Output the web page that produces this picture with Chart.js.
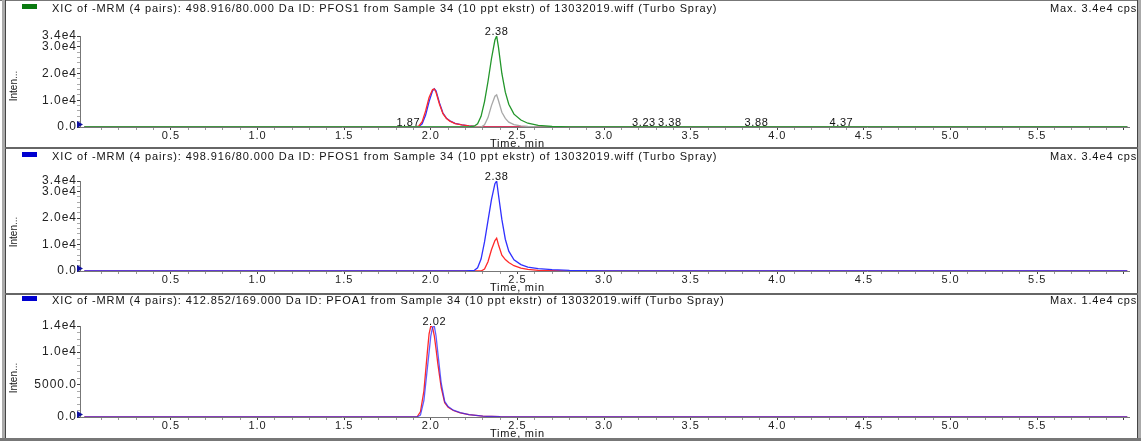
<!DOCTYPE html>
<html>
<head>
<meta charset="utf-8">
<script src="https://cdn.jsdelivr.net/npm/chart.js@4.4.1/dist/chart.umd.min.js"></script>
<style>
body{margin:0;background:#fff;}
#wrap{position:relative;width:1141px;height:441px;overflow:hidden;background:#fff;}
canvas{position:absolute;left:0;}
.ln{position:absolute;}
</style>
</head>
<body>
<div id="wrap">
<canvas id="c1" width="1141" height="148" style="top:0"></canvas>
<canvas id="c2" width="1141" height="146" style="top:148px"></canvas>
<canvas id="c3" width="1141" height="147" style="top:294px"></canvas>
<div class="ln" style="left:0;top:0;width:1141px;height:1px;background:#777"></div>
<div class="ln" style="left:2px;top:0;width:3px;height:441px;background:#aaa"></div>
<div class="ln" style="left:5px;top:0;width:1px;height:441px;background:#444"></div>
<div class="ln" style="left:1137px;top:0;width:1px;height:441px;background:#444"></div>
<div class="ln" style="left:1138px;top:0;width:3px;height:441px;background:#aaa"></div>
<div class="ln" style="left:5px;top:147px;width:1133px;height:2px;background:#666"></div>
<div class="ln" style="left:5px;top:293px;width:1133px;height:2px;background:#666"></div>
<div class="ln" style="left:0;top:438px;width:1141px;height:3px;background:#777"></div>
</div>
<script>
// x axis labels (minutes)
var xTickLabels = ['0.5','1.0','1.5','2.0','2.5','3.0','3.5','4.0','4.5','5.0','5.5'];

// panel 1 : PFOS1 498.916/80.000
var p1Time = [0, 0.5, 1.0, 1.5, 1.80, 1.87, 1.91, 1.93, 1.95, 1.97, 1.99, 2.01, 2.02, 2.03, 2.05, 2.07, 2.09,
  2.11, 2.14, 2.18, 2.22, 2.25, 2.27, 2.29, 2.31, 2.33, 2.35, 2.37, 2.38, 2.39, 2.41, 2.43, 2.45, 2.48, 2.52,
  2.56, 2.62, 2.70, 2.80, 3.0, 3.23, 3.38, 3.6, 3.88, 4.1, 4.37, 4.6, 5.0, 5.5, 6.02];
var p1Green = [0, 0, 0, 0, 0, 0, 0, 0, 0, 0, 0, 0, 0, 0, 0, 0, 0,
  0, 0, 0, 0, 300, 1200, 4000, 9500, 17000, 25500, 32500, 34000, 30000, 20000, 13000, 8500, 4800, 2600,
  1400, 600, 200, 50, 0, 0, 0, 0, 0, 0, 0, 0, 0, 0, 0];
var p1Gray = [0, 0, 0, 0, 0, 0, 0, 0, 0, 0, 0, 0, 0, 0, 0, 0, 0,
  0, 0, 0, 0, 0, 0, 0, 800, 3500, 8000, 11500, 12000, 10000, 5500, 3200, 1800, 900, 400,
  200, 80, 0, 0, 0, 0, 0, 0, 0, 0, 0, 0, 0, 0, 0];
var p1Red = [0, 0, 0, 0, 0, 0, 0, 300, 2000, 6000, 11000, 14000, 14200, 13000, 8500, 5000, 3200,
  2200, 1300, 800, 450, 250, 150, 100, 60, 40, 30, 20, 20, 20, 10, 0, 0, 0, 0,
  0, 0, 0, 0, 0, 0, 0, 0, 0, 0, 0, 0, 0, 0, 0];
var p1Blue = [0, 0, 0, 0, 0, 0, 0, 100, 1200, 4500, 9500, 13500, 14300, 13500, 9000, 5200, 3300,
  2300, 1350, 800, 450, 250, 150, 100, 60, 40, 30, 20, 20, 20, 10, 0, 0, 0, 0,
  0, 0, 0, 0, 0, 0, 0, 0, 0, 0, 0, 0, 0, 0, 0];
var p1Peaks = [1.87, 2.38, 3.23, 3.38, 3.88, 4.37];
var p1PeakHeights = [0, 34000, 0, 0, 0, 0];
var p1YTicks = [0, 10000, 20000, 30000, 34000];
var p1YLabels = ['0.0', '1.0e4', '2.0e4', '3.0e4', '3.4e4'];

// panel 2 : PFOS1 498.916/80.000
var p2Time = [0, 0.5, 1.0, 1.5, 2.0, 2.2, 2.25, 2.27, 2.29, 2.31, 2.33, 2.35, 2.37, 2.38, 2.39, 2.41, 2.43,
  2.45, 2.48, 2.52, 2.56, 2.62, 2.70, 2.80, 2.90, 3.0, 3.5, 4.0, 4.5, 5.0, 5.5, 6.02];
var p2Blue = [0, 0, 0, 0, 0, 0, 200, 1200, 4500, 11000, 19000, 27000, 33000, 34000, 29000, 19500, 12000,
  7500, 4200, 2400, 1500, 900, 500, 250, 150, 80, 30, 0, 0, 0, 0, 0];
var p2Red = [0, 0, 0, 0, 0, 0, 0, 0, 0, 700, 3500, 8000, 11500, 12400, 10000, 6000, 4300,
  3200, 2000, 1100, 600, 250, 100, 40, 0, 0, 0, 0, 0, 0, 0, 0];
var p2Peaks = [2.38];
var p2PeakHeights = [34000];

// panel 3 : PFOA1 412.852/169.000
var p3Time = [0, 0.5, 1.0, 1.5, 1.85, 1.92, 1.94, 1.96, 1.98, 1.99, 2.00, 2.01, 2.02, 2.03, 2.04, 2.06,
  2.08, 2.10, 2.13, 2.17, 2.22, 2.30, 2.40, 2.6, 3.0, 3.5, 4.0, 4.5, 5.0, 5.5, 6.02];
var p3Red = [0, 0, 0, 0, 0, 0, 800, 4000, 10000, 12800, 14000, 13800, 12500, 10500, 8300, 4500,
  2200, 1500, 1000, 650, 350, 120, 40, 0, 0, 0, 0, 0, 0, 0, 0];
var p3Blue = [0, 0, 0, 0, 0, 0, 300, 2500, 7500, 10000, 12500, 13800, 14000, 12500, 10000, 5200,
  2400, 1600, 1050, 680, 360, 120, 40, 0, 0, 0, 0, 0, 0, 0, 0];
var p3Peaks = [2.02];
var p3PeakHeights = [14000];
var p3YTicks = [0, 5000, 10000, 14000];
var p3YLabels = ['0.0', '5000.0', '1.0e4', '1.4e4'];

var titlePFOS = 'XIC of -MRM (4 pairs): 498.916/80.000 Da ID: PFOS1 from Sample 34 (10 ppt ekstr) of 13032019.wiff (Turbo Spray)';
var titlePFOA = 'XIC of -MRM (4 pairs): 412.852/169.000 Da ID: PFOA1 from Sample 34 (10 ppt ekstr) of 13032019.wiff (Turbo Spray)';

var FONT = '"Liberation Sans", Arial, sans-serif';

function pts(ts, vs) {
  return ts.map(function (t, i) { return {x: t, y: vs[i]}; });
}

var deco = {
  id: 'deco',
  beforeDraw: function (chart) {
    // wide spacing like the instrument software's small Arial
    chart.ctx.letterSpacing = '1px';
  },
  afterDraw: function (chart, args, o) {
    var ctx = chart.ctx, xs = chart.scales.x, ys = chart.scales.y;
    ctx.save();
    ctx.fillStyle = o.boxColor;
    ctx.fillRect(22, o.headY - 5, 15, 5);
    ctx.fillStyle = '#111';
    ctx.font = '11px ' + FONT;
    ctx.letterSpacing = '0.9px';
    ctx.textBaseline = 'middle';
    ctx.textAlign = 'left';
    ctx.fillText(o.title, 52, o.headY);
    ctx.fillText(o.max, 1050, o.headY);

    ctx.save();
    ctx.translate(14, o.yTitleY);
    ctx.rotate(-Math.PI / 2);
    ctx.letterSpacing = '0px';
    ctx.font = '10px "Liberation Sans Narrow", ' + FONT;
    ctx.textAlign = 'center';
    ctx.fillText('Inten...', 0, 0);
    ctx.restore();

    ctx.textAlign = 'center';
    ctx.letterSpacing = '0.8px';
    ctx.font = '11px ' + FONT;
    ctx.fillText('Time, min', xs.getPixelForValue(2.5), o.xTitleY);

    ctx.textBaseline = 'bottom';
    ctx.letterSpacing = '0.6px';
    o.peaks.forEach(function (t, i) {
      ctx.fillText(t.toFixed(2), xs.getPixelForValue(t), ys.getPixelForValue(o.heights[i]) + 1.5);
    });

    var by = ys.getPixelForValue(0), lx = chart.chartArea.left;
    ctx.fillStyle = '#1010a0';
    ctx.beginPath();
    ctx.moveTo(lx - 3, by - 6);
    ctx.lineTo(lx + 3, by - 2.5);
    ctx.lineTo(lx - 3, by + 1);
    ctx.closePath();
    ctx.fill();
    ctx.restore();
  }
};

function isHalf(v) { return Math.abs(v * 2 - Math.round(v * 2)) < 1e-6; }

function makeChart(id, o) {
  var xMinor = [];
  for (var i = 1; i <= 60; i++) xMinor.push(i / 10);
  var yMinor = [];
  for (var v = 0; v <= o.yMax; v += o.yStep) yMinor.push(v);
  o.yTicks.forEach(function (t) { if (yMinor.indexOf(t) < 0) yMinor.push(t); });
  yMinor.sort(function (a, b) { return a - b; });

  return new Chart(document.getElementById(id), {
    type: 'line',
    data: {datasets: o.sets.map(function (s) {
      return {data: pts(o.time, s.v), borderColor: s.c, borderWidth: 1.3, pointRadius: 0, tension: 0, fill: false};
    })},
    options: {
      responsive: false,
      animation: false,
      events: [],
      layout: {padding: {top: o.top, bottom: 0, left: 0, right: 12}},
      scales: {
        x: {
          type: 'linear', min: -0.025, max: 6.03,
          afterFit: function (s) { s.height = o.xh; },
          afterBuildTicks: function (s) { s.ticks = xMinor.map(function (v) { return {value: v}; }); },
          border: {display: true, color: '#777'},
          grid: {drawOnChartArea: false, tickLength: 3,
            tickColor: function (c) { return c.tick && isHalf(c.tick.value) ? '#444' : '#999'; }},
          ticks: {autoSkip: false, maxRotation: 0, padding: -1, color: '#222', font: {family: FONT, size: 11},
            callback: function (v) { var s = v.toFixed(1); return xTickLabels.indexOf(s) >= 0 ? s : ''; }}
        },
        y: {
          min: 0, max: o.yMax,
          afterFit: function (s) { s.width = 80; },
          afterBuildTicks: function (s) { s.ticks = yMinor.map(function (v) { return {value: v}; }); },
          border: {display: true, color: '#777'},
          grid: {drawOnChartArea: false, tickLength: 3,
            tickColor: function (c) { return c.tick && o.yTicks.indexOf(c.tick.value) >= 0 ? '#444' : '#aaa'; }},
          ticks: {autoSkip: false, padding: 0, color: '#222', font: {family: FONT, size: 12},
            callback: function (v) { var k = o.yTicks.indexOf(v); return k >= 0 ? o.yLabels[k] : ''; }}
        }
      },
      plugins: {
        legend: {display: false},
        tooltip: {enabled: false},
        deco: {boxColor: o.box, headY: o.headY, title: o.title, max: o.max, yTitleY: o.yTitleY,
          xTitleY: o.xTitleY, peaks: o.peaks, heights: o.heights}
      }
    },
    plugins: [deco]
  });
}

makeChart('c1', {
  time: p1Time, top: 36, xh: 21, yMax: 34000, yStep: 2000, yTicks: p1YTicks, yLabels: p1YLabels,
  sets: [{v: p1Green, c: '#22962a'}, {v: p1Gray, c: '#a8a8a8'}, {v: p1Red, c: '#ff2a2a'}, {v: p1Blue, c: '#3030ff'}],
  box: '#0a7a10', headY: 9, title: titlePFOS, max: 'Max. 3.4e4 cps.', yTitleY: 86, xTitleY: 144,
  peaks: p1Peaks, heights: p1PeakHeights
});
makeChart('c2', {
  time: p2Time, top: 33, xh: 23, yMax: 34000, yStep: 2000, yTicks: p1YTicks, yLabels: p1YLabels,
  sets: [{v: p2Blue, c: '#3030ff'}, {v: p2Red, c: '#ff2a2a'}],
  box: '#0000d0', headY: 9, title: titlePFOS, max: 'Max. 3.4e4 cps.', yTitleY: 84, xTitleY: 140,
  peaks: p2Peaks, heights: p2PeakHeights
});
makeChart('c3', {
  time: p3Time, top: 32, xh: 24, yMax: 14000, yStep: 1000, yTicks: p3YTicks, yLabels: p3YLabels,
  sets: [{v: p3Blue, c: 'rgba(40,40,255,0.75)'}, {v: p3Red, c: '#ff2a2a'}],
  box: '#0000d0', headY: 7, title: titlePFOA, max: 'Max. 1.4e4 cps.', yTitleY: 84, xTitleY: 140,
  peaks: p3Peaks, heights: p3PeakHeights
});
</script>
</body>
</html>
